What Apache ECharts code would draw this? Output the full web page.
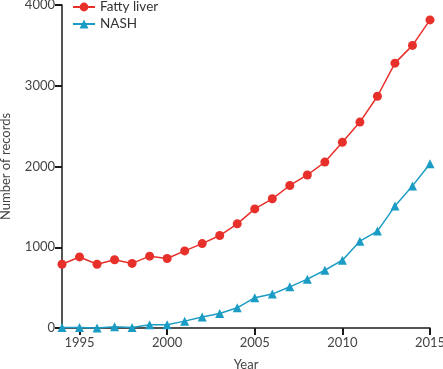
<!DOCTYPE html>
<html><head><meta charset="utf-8">
<script src="https://cdn.jsdelivr.net/npm/echarts@6/dist/echarts.min.js"></script>
<style>html,body{margin:0;padding:0;background:#fff}#c{width:443px;height:369px}</style>
</head><body><div id="c"></div>
<script>
var years = [1994,1995,1996,1997,1998,1999,2000,2001,2002,2003,2004,2005,2006,2007,2008,2009,2010,2011,2012,2013,2014,2015];
var fattyLiver = [790,880,790,845,800,890,860,955,1045,1145,1290,1475,1600,1765,1895,2055,2300,2550,2870,3280,3500,3815];
var nash = [5,5,0,15,5,40,40,85,135,180,250,375,420,510,605,715,840,1075,1200,1510,1760,2035];
var xTicks = [1995,2000,2005,2010,2015];
var yTicks = [0,1000,2000,3000,4000];

function pairs(xs, ys){ return xs.map(function(x,i){ return [x, ys[i]]; }); }

var font = 'Lato';
var chart = echarts.init(document.getElementById('c'), null, {renderer:'canvas'});
chart.setOption({
  animation:false,
  textStyle:{fontFamily:font},
  grid:{left:62,right:13,top:5,bottom:41,containLabel:false,outerBoundsMode:'none'},
  legend:{
    orient:'vertical', left:72, top:0, padding:0, itemGap:3, itemWidth:22, itemHeight:11,
    textStyle:{fontFamily:font,fontSize:13.5,color:'#333'},
    data:['Fatty liver','NASH']
  },
  xAxis:{
    type:'value', min:1994, max:2015,
    name:'Year', nameLocation:'middle', nameGap:30,
    nameTextStyle:{fontFamily:font,fontSize:13,color:'#444'},
    splitLine:{show:false},
    axisLine:{show:true,onZero:false,lineStyle:{color:'#1a1a1a',width:1.5}},
    axisTick:{show:true,inside:false,length:7,lineStyle:{color:'#1a1a1a',width:2},customValues:xTicks},
    axisLabel:{customValues:xTicks,fontFamily:font,fontSize:13,color:'#444',margin:8,
      formatter:function(v){return String(v);}}
  },
  yAxis:{
    type:'value', min:0, max:4000, interval:1000,
    name:'Number of records', nameLocation:'middle', nameGap:50,
    nameTextStyle:{fontFamily:font,fontSize:13,color:'#444'},
    splitLine:{show:false},
    axisLine:{show:true,onZero:false,lineStyle:{color:'#1a1a1a',width:1.5}},
    axisTick:{show:true,inside:false,length:7,lineStyle:{color:'#1a1a1a',width:2}},
    axisLabel:{fontFamily:font,fontSize:13,color:'#444',margin:7,
      formatter:function(v){return String(v);}}
  },
  series:[
    {name:'Fatty liver',type:'line',data:pairs(years,fattyLiver),symbol:'circle',symbolSize:9,
     clip:false,itemStyle:{color:'#e8302a'},lineStyle:{color:'#e8302a',width:1.5}},
    {name:'NASH',type:'line',data:pairs(years,nash),symbol:'triangle',symbolSize:9,
     clip:false,itemStyle:{color:'#1b9cc4'},lineStyle:{color:'#1b9cc4',width:1.5}}
  ]
});
</script></body></html>
